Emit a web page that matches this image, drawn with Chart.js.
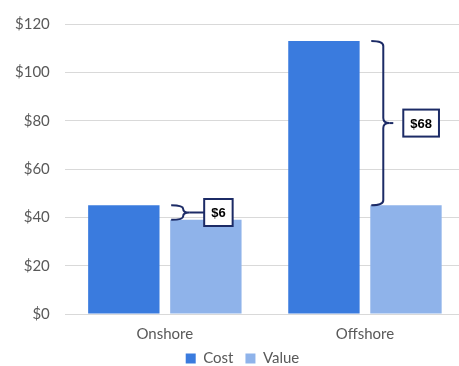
<!DOCTYPE html>
<html>
<head>
<meta charset="utf-8">
<script src="https://cdn.jsdelivr.net/npm/chart.js@4"></script>
<style>
    html, body { margin: 0; padding: 0; background: #fff; }
    #wrap { width: 459px; height: 366px; overflow: hidden; }
</style>
</head>
<body>
<div id="wrap"><canvas id="chart" width="465" height="366"></canvas></div>
<script>
const categories = ['Onshore', 'Offshore'];
const costValues = [45, 113];
const valueValues = [39, 45];
const yTicks = [0, 20, 40, 60, 80, 100, 120];

const navy = '#1c2b66';

// draws the curly braces + boxed difference labels between the two bars
const bracePlugin = {
    id: 'braces',
    afterLayout(chart) {
        // legend sits a bit right of the canvas centre in the original
        chart.legend.left += 10;
        chart.legend.right += 10;
    },
    afterDatasetsDraw(chart) {
        const ctx = chart.ctx;
        const y = chart.scales.y;
        const valueMeta = chart.getDatasetMeta(1);
        categories.forEach((c, i) => {
            const bar = valueMeta.data[i];
            const hi = Math.max(costValues[i], valueValues[i]);
            const lo = Math.min(costValues[i], valueValues[i]);
            const top = y.getPixelForValue(hi);
            const bot = y.getPixelForValue(lo);
            const mid = (top + bot) / 2;
            const x0 = bar.x - bar.width / 2 + 1;
            const w = 12;
            const r = Math.min(5, (bot - top) / 4);
            ctx.save();
            ctx.strokeStyle = navy;
            ctx.lineWidth = 2;
            ctx.beginPath();
            ctx.moveTo(x0, top);
            ctx.quadraticCurveTo(x0 + w, top, x0 + w, top + r);
            ctx.lineTo(x0 + w, mid - r);
            ctx.quadraticCurveTo(x0 + w, mid, x0 + w + 6, mid);
            ctx.quadraticCurveTo(x0 + w, mid, x0 + w, mid + r);
            ctx.lineTo(x0 + w, bot - r);
            ctx.quadraticCurveTo(x0 + w, bot, x0, bot);
            ctx.stroke();

            const label = '$' + (hi - lo);
            ctx.font = 'bold 13px "Liberation Sans", Arial, sans-serif';
            const tw = ctx.measureText(label).width;
            const bw = tw + 14;
            const bh = 27;
            const bx = x0 + w + (i === 0 ? 21 : 20);
            // connector line from brace tip
            ctx.beginPath();
            ctx.moveTo(x0 + w + 6, mid);
            ctx.lineTo(i === 0 ? bx : x0 + w + 10, mid);
            ctx.stroke();
            ctx.fillStyle = '#fff';
            ctx.fillRect(bx, mid - bh / 2, bw, bh);
            ctx.strokeRect(bx, mid - bh / 2, bw, bh);
            ctx.fillStyle = '#000';
            ctx.textAlign = 'center';
            ctx.textBaseline = 'middle';
            ctx.fillText(label, bx + bw / 2, mid + 1);
            ctx.restore();
        });
    },
};

new Chart('chart', {
    type: 'bar',
    data: {
        labels: categories,
        datasets: [
            {
                label: 'Cost',
                data: costValues,
                backgroundColor: '#3a7bde',
                categoryPercentage: 0.82,
                barPercentage: 0.87,
            },
            {
                label: 'Value',
                data: valueValues,
                backgroundColor: '#8fb3ea',
                categoryPercentage: 0.82,
                barPercentage: 0.87,
            },
        ],
    },
    options: {
        responsive: false,
        animation: false,
        layout: { padding: { top: 8, right: 0, left: 0, bottom: -10 } },
        plugins: {
            legend: {
                position: 'bottom',
                labels: {
                    boxWidth: 10,
                    boxHeight: 10,
                    padding: 12,
                    color: '#595959',
                    font: { family: 'Lato', size: 15 },
                },
            },
            tooltip: { enabled: false },
        },
        scales: {
            x: {
                grid: { display: false },
                border: { display: false },
                afterFit: (axis) => {
                    axis.height -= 7;
                },
                ticks: {
                    color: '#595959',
                    font: { family: 'Lato', size: 15 },
                    padding: 3,
                },
            },
            y: {
                min: 0,
                max: 120,
                afterBuildTicks: (axis) => {
                    axis.ticks = yTicks.map((v) => ({ value: v }));
                },
                grid: { color: '#d9d9d9', drawTicks: false },
                border: { display: false },
                ticks: {
                    color: '#595959',
                    font: { family: 'Lato', size: 15 },
                    padding: 15,
                    callback: (v) => '$' + v,
                },
            },
        },
    },
    plugins: [bracePlugin],
});
</script>
</body>
</html>
